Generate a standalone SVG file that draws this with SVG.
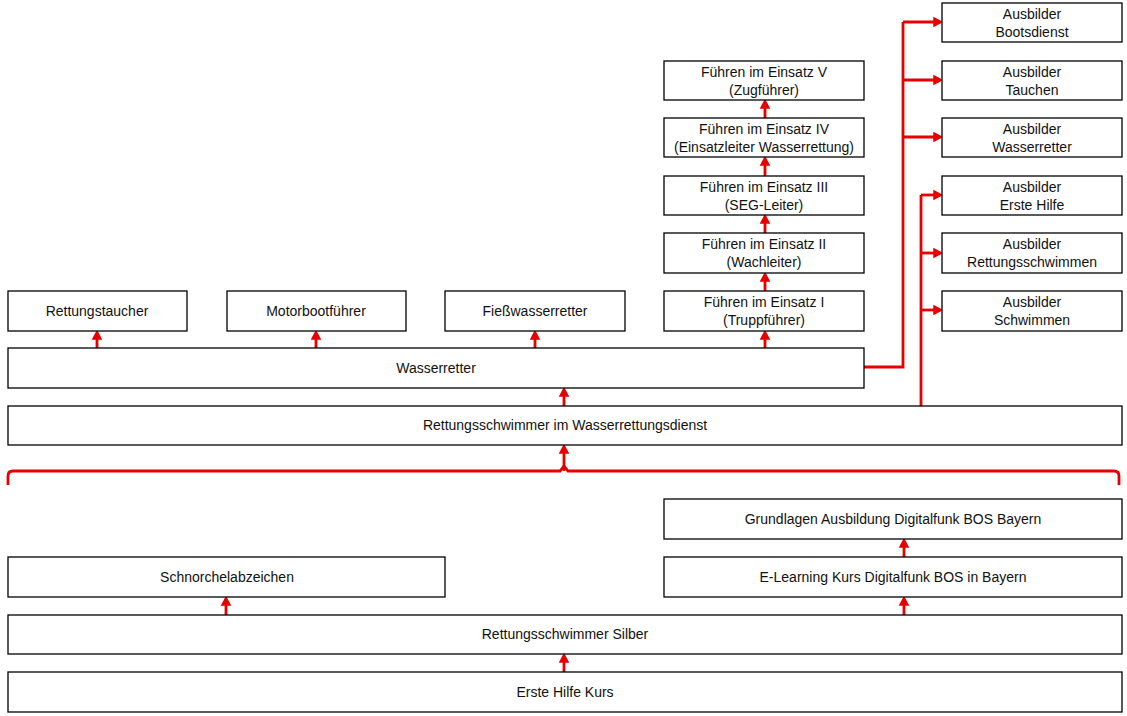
<svg xmlns="http://www.w3.org/2000/svg" width="1127" height="716" viewBox="0 0 1127 716">
<style>
.b{fill:#fff;stroke:#000;stroke-width:1.3}
text{font-family:"Liberation Sans",Arial,sans-serif;font-size:14px;fill:#111;text-anchor:middle}
.c{fill:none;stroke:#e60000;stroke-width:2.8}
</style>
<defs>
<marker id="a" markerWidth="4" markerHeight="4" refX="2.4" refY="2" orient="auto" markerUnits="strokeWidth" viewBox="0 0 4 4"><path d="M0,0.1L3.6,2L0,3.9z" fill="#e60000"/></marker>
</defs>
<rect width="1127" height="716" fill="#fff"/>
<g id="connectors">
<path class="c" d="M97,348V333" marker-end="url(#a)"/>
<path class="c" d="M316,348V333" marker-end="url(#a)"/>
<path class="c" d="M535,348V333" marker-end="url(#a)"/>
<path class="c" d="M765,348V333" marker-end="url(#a)"/>
<path class="c" d="M765,291V275" marker-end="url(#a)"/>
<path class="c" d="M765,233V217" marker-end="url(#a)"/>
<path class="c" d="M765,176V159" marker-end="url(#a)"/>
<path class="c" d="M765,118V102" marker-end="url(#a)"/>
<path class="c" d="M564,406V390" marker-end="url(#a)"/>
<path class="c" d="M564,471V447" marker-end="url(#a)"/>
<path class="c" d="M8,485V476Q8,471 13,471H560L564,466L568,471H1114Q1119,471 1119,476V485"/>
<path class="c" d="M226,615V599" marker-end="url(#a)"/>
<path class="c" d="M904,615V599" marker-end="url(#a)"/>
<path class="c" d="M904,557V541" marker-end="url(#a)"/>
<path class="c" d="M564,672V656" marker-end="url(#a)"/>
<path class="c" d="M864,367H903V22"/>
<path class="c" d="M903,22H940" marker-end="url(#a)"/>
<path class="c" d="M903,80H940" marker-end="url(#a)"/>
<path class="c" d="M903,137H940" marker-end="url(#a)"/>
<path class="c" d="M921,406V195"/>
<path class="c" d="M921,195H940" marker-end="url(#a)"/>
<path class="c" d="M921,253H940" marker-end="url(#a)"/>
<path class="c" d="M921,310H940" marker-end="url(#a)"/>
</g>
<g id="n-ab-boot"><rect class="b" x="942" y="3" width="180" height="39"/><text x="1032" y="19">Ausbilder</text><text x="1032" y="37">Bootsdienst</text></g>
<g id="n-ab-tauchen"><rect class="b" x="942" y="61" width="180" height="39"/><text x="1032" y="77">Ausbilder</text><text x="1032" y="95">Tauchen</text></g>
<g id="n-ab-wr"><rect class="b" x="942" y="118" width="180" height="39"/><text x="1032" y="134">Ausbilder</text><text x="1032" y="152">Wasserretter</text></g>
<g id="n-ab-eh"><rect class="b" x="942" y="176" width="180" height="39"/><text x="1032" y="192">Ausbilder</text><text x="1032" y="210">Erste Hilfe</text></g>
<g id="n-ab-rs"><rect class="b" x="942" y="233" width="180" height="40"/><text x="1032" y="249">Ausbilder</text><text x="1032" y="267">Rettungsschwimmen</text></g>
<g id="n-ab-sw"><rect class="b" x="942" y="291" width="180" height="40"/><text x="1032" y="307">Ausbilder</text><text x="1032" y="325">Schwimmen</text></g>
<g id="n-fie5"><rect class="b" x="664" y="61" width="200" height="39"/><text x="764" y="77">Führen im Einsatz V</text><text x="764" y="95">(Zugführer)</text></g>
<g id="n-fie4"><rect class="b" x="664" y="118" width="200" height="39"/><text x="764" y="134">Führen im Einsatz IV</text><text x="764" y="152">(Einsatzleiter Wasserrettung)</text></g>
<g id="n-fie3"><rect class="b" x="664" y="176" width="200" height="39"/><text x="764" y="192">Führen im Einsatz III</text><text x="764" y="210">(SEG-Leiter)</text></g>
<g id="n-fie2"><rect class="b" x="664" y="233" width="200" height="40"/><text x="764" y="249">Führen im Einsatz II</text><text x="764" y="267">(Wachleiter)</text></g>
<g id="n-fie1"><rect class="b" x="664" y="291" width="200" height="40"/><text x="764" y="307">Führen im Einsatz I</text><text x="764" y="325">(Truppführer)</text></g>
<g id="n-rt"><rect class="b" x="8" y="291" width="179" height="40"/><text x="97" y="316">Rettungstaucher</text></g>
<g id="n-mb"><rect class="b" x="227" y="291" width="179" height="40"/><text x="316" y="316">Motorbootführer</text></g>
<g id="n-fw"><rect class="b" x="445" y="291" width="180" height="40"/><text x="535" y="316">Fießwasserretter</text></g>
<g id="n-wr"><rect class="b" x="8" y="348" width="856" height="40"/><text x="436" y="373">Wasserretter</text></g>
<g id="n-rsw"><rect class="b" x="8" y="406" width="1114" height="39"/><text x="565" y="430">Rettungsschwimmer im Wasserrettungsdienst</text></g>
<g id="n-gl"><rect class="b" x="664" y="499" width="458" height="40"/><text x="893" y="524">Grundlagen Ausbildung Digitalfunk BOS Bayern</text></g>
<g id="n-el"><rect class="b" x="664" y="557" width="458" height="40"/><text x="893" y="582">E-Learning Kurs Digitalfunk BOS in Bayern</text></g>
<g id="n-sn"><rect class="b" x="8" y="557" width="437" height="40"/><text x="227" y="582">Schnorchelabzeichen</text></g>
<g id="n-rss"><rect class="b" x="8" y="615" width="1114" height="39"/><text x="565" y="639">Rettungsschwimmer Silber</text></g>
<g id="n-eh"><rect class="b" x="8" y="672" width="1114" height="40"/><text x="565" y="697">Erste Hilfe Kurs</text></g>
</svg>
